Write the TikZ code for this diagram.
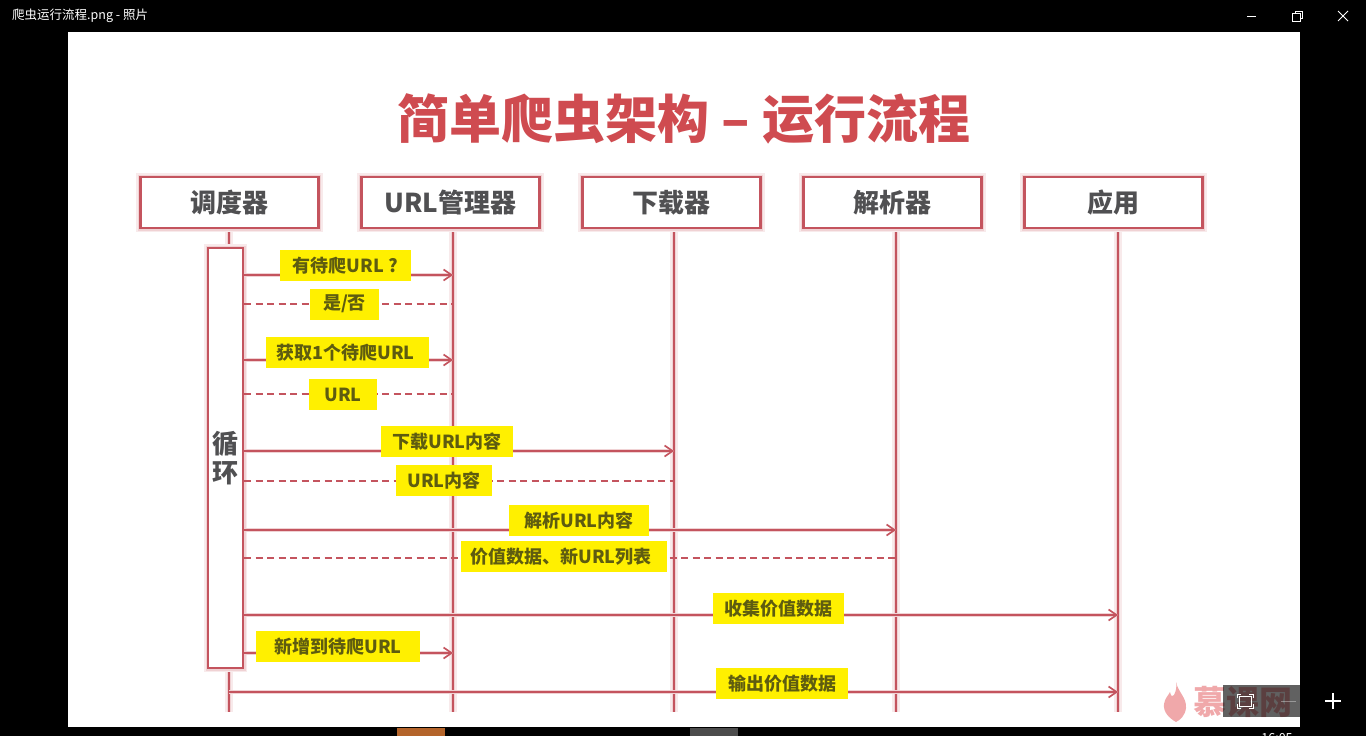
\documentclass[tikz,border=0pt]{standalone}
\usepackage{fontspec}
\setmainfont{Noto Sans CJK SC}
\usetikzlibrary{arrows.meta}
\definecolor{slidered}{HTML}{C4545E}
\definecolor{halo}{HTML}{F0D2D4}
\definecolor{halosoft}{HTML}{F8EAEB}
\definecolor{titlered}{HTML}{CF4B50}
\definecolor{boxtext}{HTML}{505052}
\definecolor{labeltext}{HTML}{5E5C10}
\definecolor{labelfill}{HTML}{FFF000}
\definecolor{wm}{HTML}{F0A8AA}
\definecolor{taskorange}{HTML}{B4642A}
\newcommand{\fs}[1]{\fontsize{#1}{#1}\selectfont}
\tikzset{
  x=1pt,y=-1pt,
  softedge/.style={preaction={draw=halosoft,line width=#1+3pt},preaction={draw=halo,line width=#1}},
  actor/.style={draw=slidered,line width=2.6pt,fill=white,minimum width=178.5pt,minimum height=51pt,inner sep=0pt,
     text=boxtext,font=\fs{26}\bfseries,softedge=5pt},
  lifeline/.style={draw=slidered,line width=2.4pt,softedge=4.5pt},
  msg/.style={draw=slidered,line width=1.7pt,-{Straight Barb[length=8pt,width=11pt,line width=1.6pt]},preaction={draw=halo,line width=3.5pt}},
  reply/.style={draw=slidered,line width=1.6pt,dash pattern=on 7pt off 4.5pt},
  activation/.style={draw=slidered,line width=2.6pt,fill=white,minimum width=35pt,minimum height=420pt,inner sep=0pt,
     text=boxtext,font=\fs{26}\bfseries,align=center,softedge=5pt},
  note/.style={fill=labelfill,text=labeltext,font=\fs{18}\bfseries,inner sep=0pt,minimum height=31pt},
  chrome/.style={text=white,font=\fs{12.5},inner sep=0pt},
  winicon/.style={draw=white,line width=1pt},
}
\begin{document}
\begin{tikzpicture}
\useasboundingbox (0,0) rectangle (1366,736);
\clip (0,0) rectangle (1366,736);
% window and slide
\fill[black] (0,0) rectangle (1366,736);
\fill[white] (68,32) rectangle (1300,727);
\fill[taskorange] (397,728) rectangle (445,736);
\fill[black!70] (690,728) rectangle (738,736);
\node[chrome,anchor=west] (wintitle) at (12,16) {爬虫运行流程.png - 照片};
\draw[winicon] (1247,16) -- (1256,16);
\draw[winicon] (1292.5,13.5) rectangle (1300.5,21.5);
\draw[winicon] (1295,13.5) -- (1295,11) -- (1302.5,11) -- (1302.5,18.5) -- (1300.5,18.5);
\draw[winicon] (1338,11) -- (1348,21) (1348,11) -- (1338,21);
% title
\node[text=titlered,font=\fs{52}\bfseries,inner sep=0pt] (title) at (684,119) {简单爬虫架构 – 运行流程};
% lifeline ends
\coordinate (l1t) at (229,229); \coordinate (l1b) at (229,712);
\coordinate (l2t) at (453,229); \coordinate (l2b) at (453,712);
\coordinate (l3t) at (674,229); \coordinate (l3b) at (674,712);
\coordinate (l4t) at (896,229); \coordinate (l4b) at (896,712);
\coordinate (l5t) at (1118,229); \coordinate (l5b) at (1118,712);
\draw[lifeline] (l1t) -- (l1b);
\draw[lifeline] (l2t) -- (l2b);
\draw[lifeline] (l3t) -- (l3b);
\draw[lifeline] (l4t) -- (l4b);
\draw[lifeline] (l5t) -- (l5b);
% actors
\node[actor] (a1) at (229.5,202.5) {调度器};
\node[actor] (a2) at (450.5,202.5) {URL管理器};
\node[actor] (a3) at (671.5,202.5) {下载器};
\node[actor] (a4) at (892.5,202.5) {解析器};
\node[actor] (a5) at (1113.5,202.5) {应用};
% activation
\node[activation] (act) at (225.5,458) {循\\[3pt]环};
% messages
\coordinate (m1s) at (244,275); \coordinate (m1e) at (453,275);
\coordinate (m2s) at (244,304); \coordinate (m2e) at (453,304);
\coordinate (m3s) at (244,360); \coordinate (m3e) at (453,360);
\coordinate (m4s) at (244,394); \coordinate (m4e) at (453,394);
\coordinate (m5s) at (244,451); \coordinate (m5e) at (674,451);
\coordinate (m6s) at (244,481); \coordinate (m6e) at (674,481);
\coordinate (m7s) at (244,530); \coordinate (m7e) at (896,530);
\coordinate (m8s) at (244,558); \coordinate (m8e) at (896,558);
\coordinate (m9s) at (244,615); \coordinate (m9e) at (1118,615);
\coordinate (m10s) at (244,653); \coordinate (m10e) at (453,653);
\coordinate (m11s) at (229,692); \coordinate (m11e) at (1118,692);
\draw[msg] (m1s) -- (m1e);
\draw[reply] (m2s) -- (m2e);
\draw[msg] (m3s) -- (m3e);
\draw[reply] (m4s) -- (m4e);
\draw[msg] (m5s) -- (m5e);
\draw[reply] (m6s) -- (m6e);
\draw[msg] (m7s) -- (m7e);
\draw[reply] (m8s) -- (m8e);
\draw[msg] (m9s) -- (m9e);
\draw[msg] (m10s) -- (m10e);
\draw[msg] (m11s) -- (m11e);
% labels
\node[note,minimum width=131pt] (n1) at (345.5,265.5) {有待爬URL ?};
\node[note,minimum width=69pt] (n2) at (344.5,304) {是/否};
\node[note,minimum width=163pt] (n3) at (347.5,352.5) {\hspace{-4pt}获取1个待爬URL};
\node[note,minimum width=68pt] (n4) at (343,394.5) {URL};
\node[note,minimum width=132pt] (n5) at (447,441.5) {下载URL内容};
\node[note,minimum width=96pt] (n6) at (444,480.5) {URL内容};
\node[note,minimum width=140pt] (n7) at (579,520.5) {解析URL内容};
\node[note,minimum width=206pt] (n8) at (564,556.5) {\hspace{-6pt}价值数据、新URL列表};
\node[note,minimum width=131pt] (n9) at (778.5,608.5) {收集价值数据};
\node[note,minimum width=164pt] (n10) at (338,646.5) {新增到待爬URL};
\node[note,minimum width=132pt] (n11) at (782,683.5) {输出价值数据};
% watermark and viewer controls
\fill[wm] (1176,682) .. controls (1178,692) and (1187,698) .. (1186,708)
   .. controls (1185,716) and (1180,720) .. (1176,722)
   .. controls (1169,718) and (1163,712) .. (1164,704)
   .. controls (1165,698) and (1168,696) .. (1170,692)
   .. controls (1171,697) and (1173,697) .. (1174,695)
   .. controls (1176,691) and (1177,687) .. (1176,682) -- cycle;
\node[text=wm,font=\fs{33}\bfseries,inner sep=0pt,anchor=west] (wmark) at (1193,702) {慕课网};
\fill[black,opacity=.62] (1223,685) rectangle (1300,717);
\draw[winicon] (1239,696) rectangle (1251,706);
\draw[winicon,line width=.8pt] (1237,698) -- (1237,694) -- (1241,694) (1249,694) -- (1253,694) -- (1253,698)
   (1253,704) -- (1253,708) -- (1249,708) (1241,708) -- (1237,708) -- (1237,704);
\draw[white,opacity=.35,line width=1pt] (1281,701) -- (1296,701);
\draw[white,line width=1.2pt] (1325,701) -- (1341,701) (1333,693) -- (1333,709);
\node[chrome,anchor=center] (clock) at (1277,738) {16:05};
\end{tikzpicture}
\end{document}
